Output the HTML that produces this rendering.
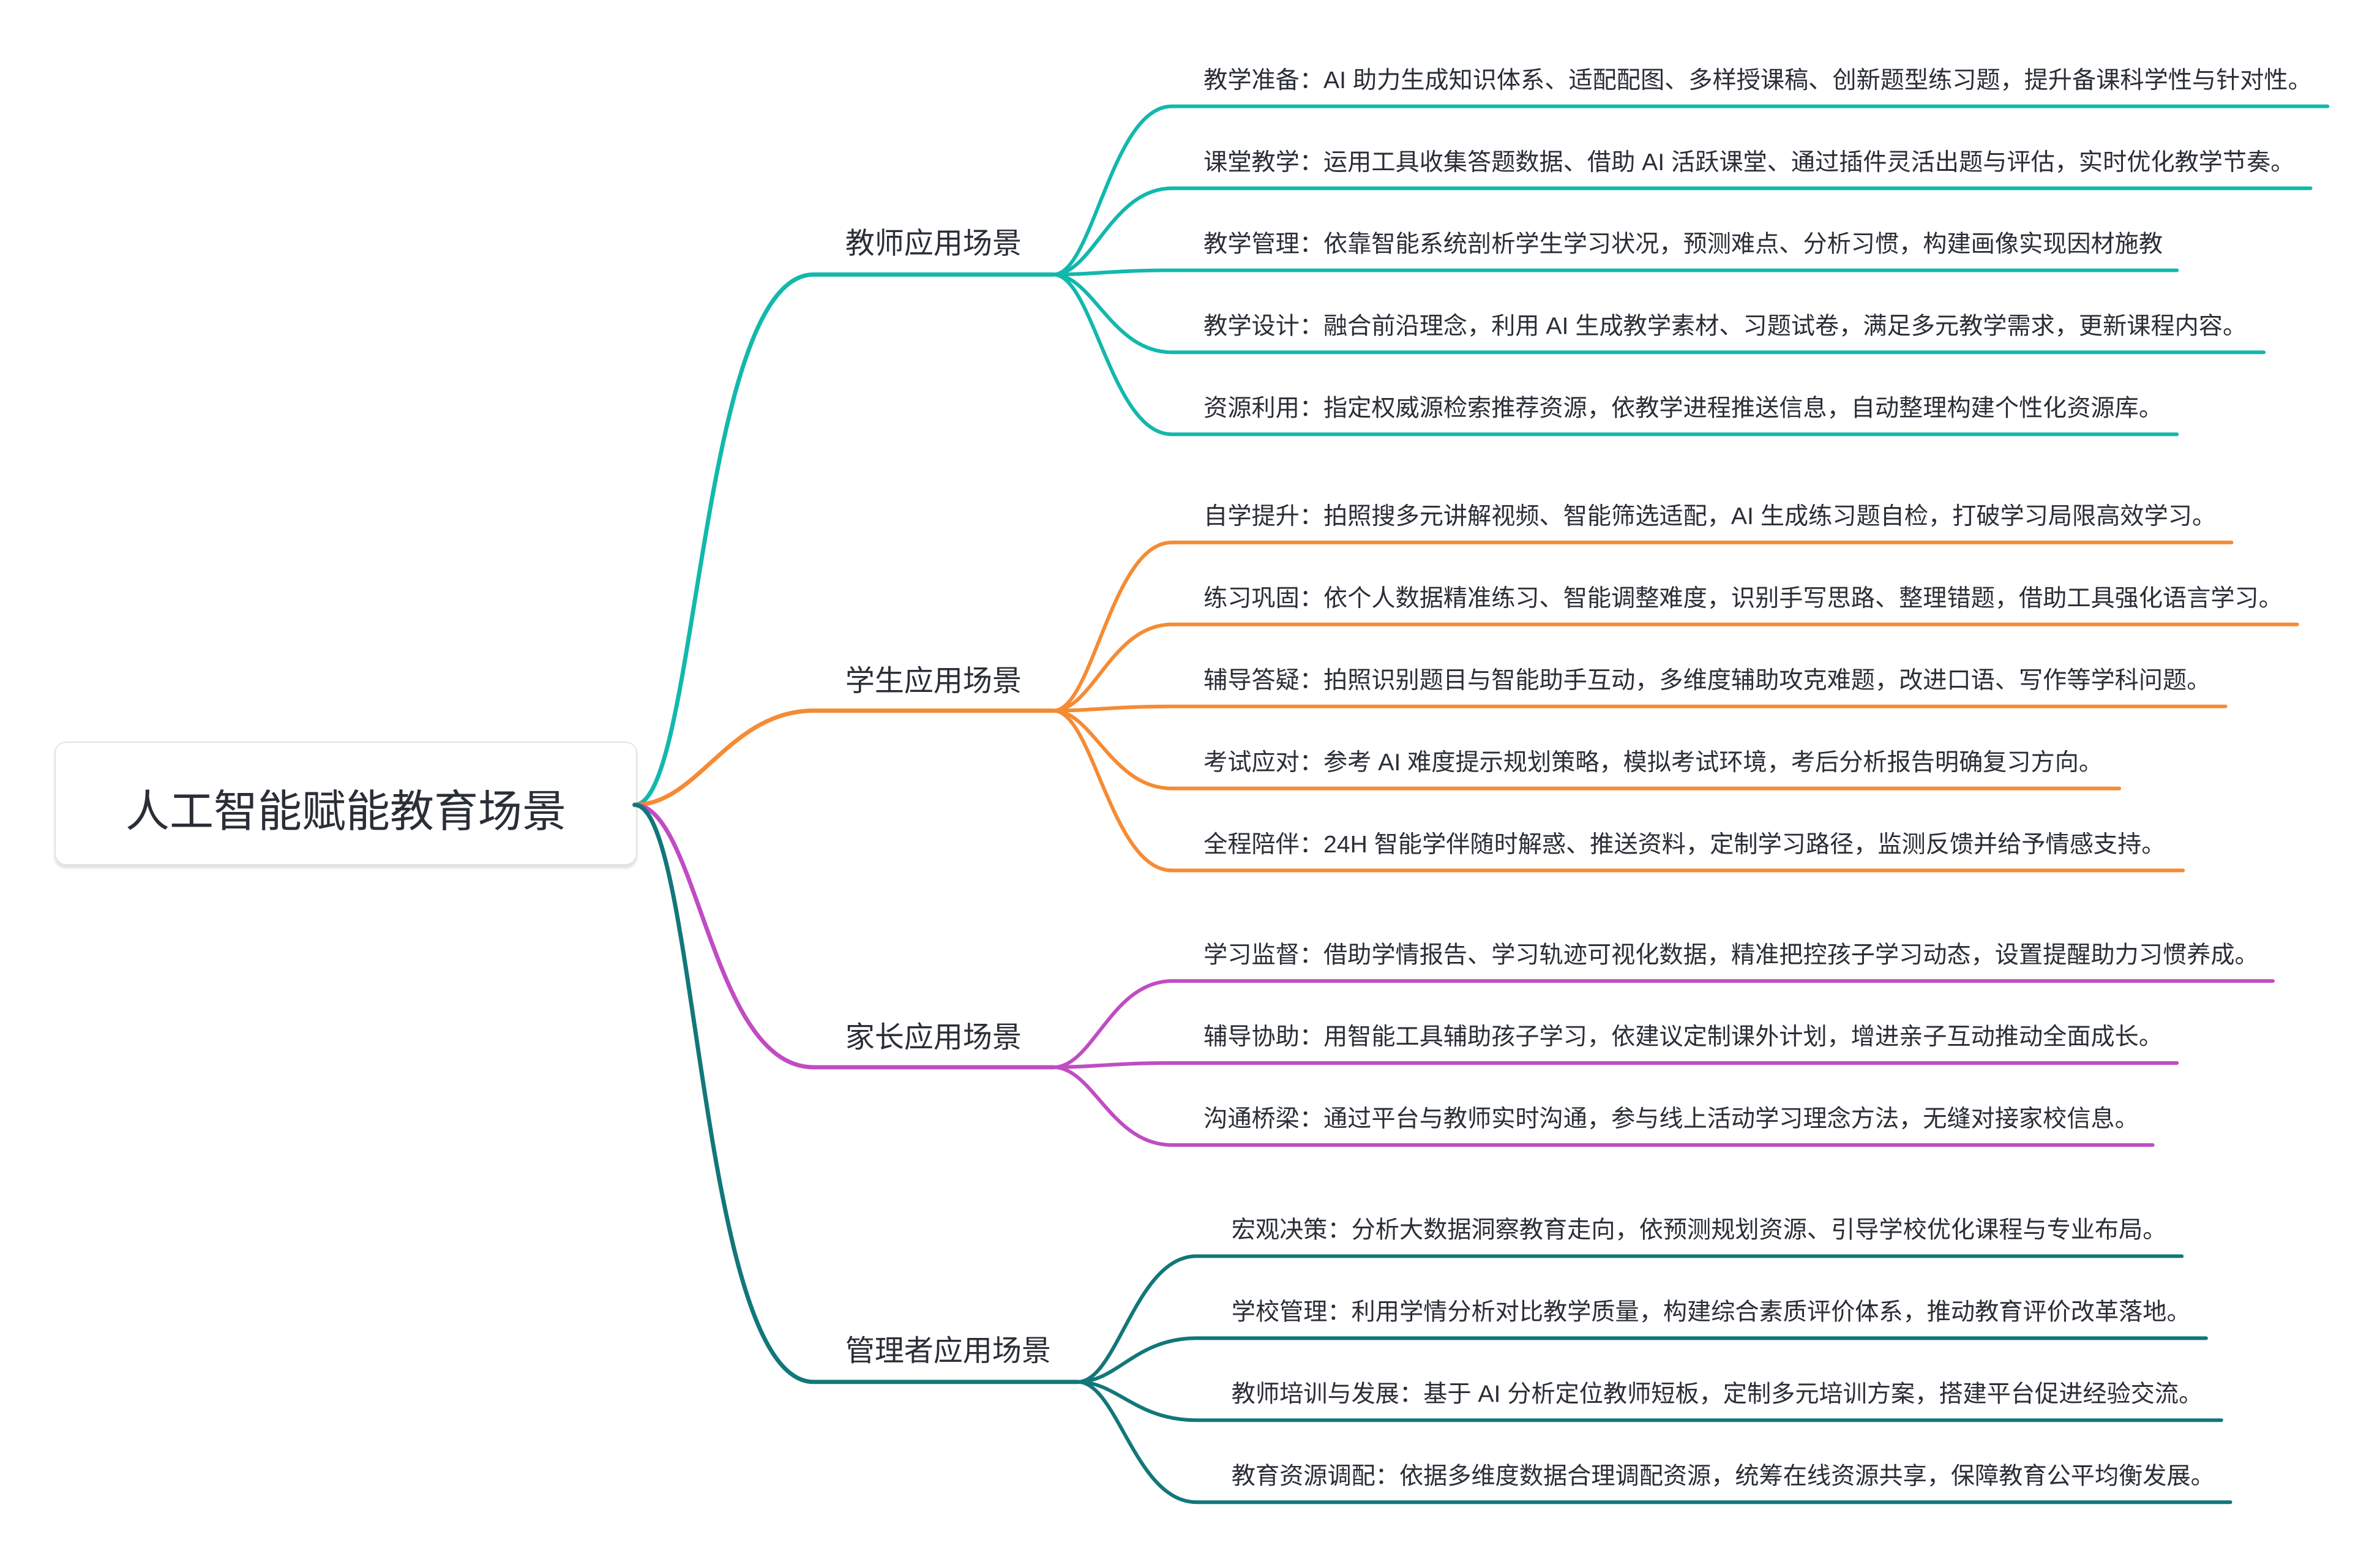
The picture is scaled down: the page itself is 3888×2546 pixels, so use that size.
<!DOCTYPE html>
<html><head><meta charset="utf-8"><style>
html,body{margin:0;padding:0;background:#fff;}
svg{display:block;}
text{font-family:"Liberation Sans","Noto Sans CJK SC",sans-serif;fill:#2a2e36;}
.l{font-size:39.5px;}
.b{font-size:48.4px;}
path{fill:none;stroke-linecap:round;}
</style></head><body>
<svg width="3888" height="2546" viewBox="0 0 3888 2546" xmlns="http://www.w3.org/2000/svg">
<defs><filter id="sh" x="-5%" y="-5%" width="110%" height="120%"><feDropShadow dx="0" dy="5" stdDeviation="2" flood-color="#000" flood-opacity="0.12"/></filter></defs>
<rect x="90" y="1212" width="950" height="200" rx="18" fill="#fff" stroke="#e3e3e3" stroke-width="2" filter="url(#sh)"/>
<text x="565" y="1350" text-anchor="middle" style="font-size:72px">人工智能赋能教育场景</text>

<g transform="scale(0.992)">
<!-- branches -->
<g stroke-width="7">
<path stroke="#12b8ac" d="M1045,1325 C1150,1325 1150,452 1340,452 L1735,452"/>
<path stroke="#f58b33" d="M1045,1325 C1150,1325 1200,1170 1340,1170 L1735,1170"/>
<path stroke="#c04cc4" d="M1045,1325 C1150,1325 1170,1757 1340,1757 L1735,1757"/>
<path stroke="#11777a" d="M1045,1325 C1150,1325 1150,2275 1340,2275 L1775,2275"/>
</g>
<text class="b" x="1392" y="417">教师应用场景</text>
<text class="b" x="1392" y="1137">学生应用场景</text>
<text class="b" x="1392" y="1724">家长应用场景</text>
<text class="b" x="1392" y="2240">管理者应用场景</text>

<!-- teacher leaves -->
<g stroke="#12b8ac" stroke-width="6">
<path d="M1735,452 C1800,452 1830,175 1930,175 L3833,175"/>
<path d="M1735,452 C1800,452 1830,310 1930,310 L3805,310"/>
<path d="M1735,452 C1800,452 1830,445 1930,445 L3585,445"/>
<path d="M1735,452 C1800,452 1830,580 1930,580 L3728,580"/>
<path d="M1735,452 C1800,452 1830,715 1930,715 L3585,715"/>
</g>
<text class="l" x="1982" y="145">教学准备：AI 助力生成知识体系、适配配图、多样授课稿、创新题型练习题，提升备课科学性与针对性。</text>
<text class="l" x="1982" y="280">课堂教学：运用工具收集答题数据、借助 AI 活跃课堂、通过插件灵活出题与评估，实时优化教学节奏。</text>
<text class="l" x="1982" y="415">教学管理：依靠智能系统剖析学生学习状况，预测难点、分析习惯，构建画像实现因材施教</text>
<text class="l" x="1982" y="550">教学设计：融合前沿理念，利用 AI 生成教学素材、习题试卷，满足多元教学需求，更新课程内容。</text>
<text class="l" x="1982" y="685">资源利用：指定权威源检索推荐资源，依教学进程推送信息，自动整理构建个性化资源库。</text>

<!-- student leaves -->
<g stroke="#f58b33" stroke-width="6">
<path d="M1735,1170 C1800,1170 1830,893 1930,893 L3675,893"/>
<path d="M1735,1170 C1800,1170 1830,1028 1930,1028 L3783,1028"/>
<path d="M1735,1170 C1800,1170 1830,1163 1930,1163 L3665,1163"/>
<path d="M1735,1170 C1800,1170 1830,1298 1930,1298 L3490,1298"/>
<path d="M1735,1170 C1800,1170 1830,1433 1930,1433 L3595,1433"/>
</g>
<text class="l" x="1982" y="863">自学提升：拍照搜多元讲解视频、智能筛选适配，AI 生成练习题自检，打破学习局限高效学习。</text>
<text class="l" x="1982" y="998">练习巩固：依个人数据精准练习、智能调整难度，识别手写思路、整理错题，借助工具强化语言学习。</text>
<text class="l" x="1982" y="1133">辅导答疑：拍照识别题目与智能助手互动，多维度辅助攻克难题，改进口语、写作等学科问题。</text>
<text class="l" x="1982" y="1268">考试应对：参考 AI 难度提示规划策略，模拟考试环境，考后分析报告明确复习方向。</text>
<text class="l" x="1982" y="1403">全程陪伴：24H 智能学伴随时解惑、推送资料，定制学习路径，监测反馈并给予情感支持。</text>

<!-- parent leaves -->
<g stroke="#c04cc4" stroke-width="6">
<path d="M1735,1757 C1800,1757 1830,1615 1930,1615 L3743,1615"/>
<path d="M1735,1757 C1800,1757 1830,1750 1930,1750 L3585,1750"/>
<path d="M1735,1757 C1800,1757 1830,1885 1930,1885 L3545,1885"/>
</g>
<text class="l" x="1982" y="1585">学习监督：借助学情报告、学习轨迹可视化数据，精准把控孩子学习动态，设置提醒助力习惯养成。</text>
<text class="l" x="1982" y="1720">辅导协助：用智能工具辅助孩子学习，依建议定制课外计划，增进亲子互动推动全面成长。</text>
<text class="l" x="1982" y="1855">沟通桥梁：通过平台与教师实时沟通，参与线上活动学习理念方法，无缝对接家校信息。</text>

<!-- manager leaves -->
<g stroke="#11777a" stroke-width="6">
<path d="M1775,2275 C1840,2275 1870,2068 1970,2068 L3593,2068"/>
<path d="M1775,2275 C1840,2275 1870,2203 1970,2203 L3633,2203"/>
<path d="M1775,2275 C1840,2275 1870,2338 1970,2338 L3658,2338"/>
<path d="M1775,2275 C1840,2275 1870,2473 1970,2473 L3673,2473"/>
</g>
<text class="l" x="2028" y="2038">宏观决策：分析大数据洞察教育走向，依预测规划资源、引导学校优化课程与专业布局。</text>
<text class="l" x="2028" y="2173">学校管理：利用学情分析对比教学质量，构建综合素质评价体系，推动教育评价改革落地。</text>
<text class="l" x="2028" y="2308">教师培训与发展：基于 AI 分析定位教师短板，定制多元培训方案，搭建平台促进经验交流。</text>
<text class="l" x="2028" y="2443">教育资源调配：依据多维度数据合理调配资源，统筹在线资源共享，保障教育公平均衡发展。</text>
</g>
</svg>
</body></html>
